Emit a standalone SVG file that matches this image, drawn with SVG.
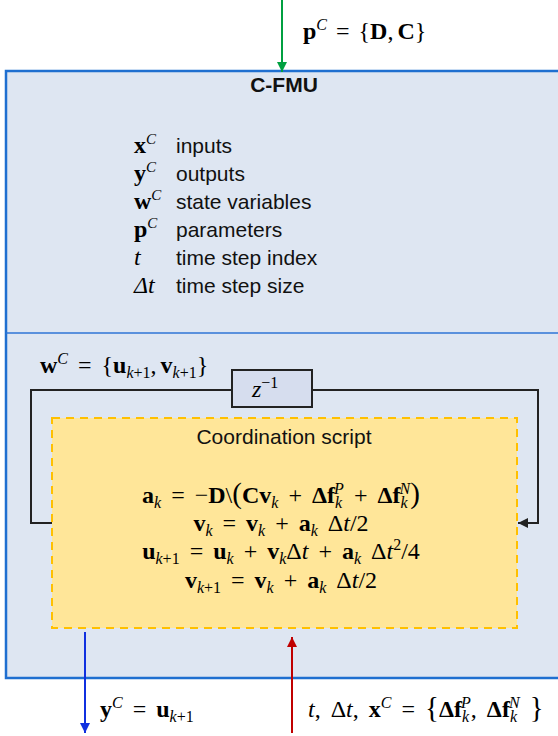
<svg xmlns="http://www.w3.org/2000/svg" width="558" height="736" viewBox="0 0 558 736">
<defs>
<style>
.m{font-family:"Liberation Serif","DejaVu Serif",serif;font-size:24px;fill:#000}
.e{word-spacing:4px}
.b{font-weight:bold}
.i{font-style:italic}
.s{font-size:16px}
.t{font-family:"Liberation Sans",Arial,sans-serif;font-size:21px;fill:#111}
.loop{fill:none;stroke:#222;stroke-width:2}
</style>
<marker id="ag" viewBox="0 0 10 10" refX="10" refY="5" markerWidth="5" markerHeight="5" orient="auto"><path d="M0,0L10,5L0,10z" fill="#00A040"/></marker>
<marker id="ab" viewBox="0 0 10 10" refX="10" refY="5" markerWidth="5" markerHeight="5" orient="auto"><path d="M0,0L10,5L0,10z" fill="#1030E0"/></marker>
<marker id="ar" viewBox="0 0 10 10" refX="10" refY="5" markerWidth="5" markerHeight="5" orient="auto"><path d="M0,0L10,5L0,10z" fill="#C00000"/></marker>
<marker id="ak" viewBox="0 0 10 10" refX="10" refY="5" markerWidth="5" markerHeight="5" orient="auto"><path d="M0,0L10,5L0,10z" fill="#222"/></marker>
</defs>

<g id="cfmu">
<rect x="6" y="71" width="560" height="607" fill="#DEE6F2" stroke="#1F6FD0" stroke-width="2.5"/>
<line x1="6" y1="333" x2="558" y2="333" stroke="#2E75D6" stroke-width="1.5"/>
<text class="t" x="284" y="92" text-anchor="middle" font-weight="bold" font-size="18">C-FMU</text>
<g id="legend">
<text class="m" x="134" y="153" font-size="23"><tspan class="b">x</tspan><tspan class="i" font-size="15" baseline-shift="9">C</tspan></text>
<text class="t" x="176" y="153">inputs</text>
<text class="m" x="134" y="181" font-size="23"><tspan class="b">y</tspan><tspan class="i" font-size="15" baseline-shift="9">C</tspan></text>
<text class="t" x="176" y="181">outputs</text>
<text class="m" x="134" y="209" font-size="23"><tspan class="b">w</tspan><tspan class="i" font-size="15" baseline-shift="9">C</tspan></text>
<text class="t" x="176" y="209">state variables</text>
<text class="m" x="134" y="237" font-size="23"><tspan class="b">p</tspan><tspan class="i" font-size="15" baseline-shift="9">C</tspan></text>
<text class="t" x="176" y="237">parameters</text>
<text class="m i" x="134" y="265" font-size="23">t</text>
<text class="t" x="176" y="265">time step index</text>
<text class="m i" x="134" y="293" font-size="23">Δt</text>
<text class="t" x="176" y="293">time step size</text>
</g>
</g>

<g id="delay">
<rect x="232" y="370" width="80" height="37" fill="#D6DDEE" stroke="#222" stroke-width="2"/>
<text class="m i" x="252" y="397">z<tspan class="s" font-style="normal" baseline-shift="9">−1</tspan></text>
</g>
<text id="wlabel" class="m e" x="40" y="373"><tspan class="b">w</tspan><tspan class="i s" baseline-shift="9">C</tspan> = {<tspan class="b">u</tspan><tspan class="i s" baseline-shift="-5">k</tspan><tspan class="s" baseline-shift="-5">+1</tspan>,<tspan dx="4" class="b">v</tspan><tspan class="i s" baseline-shift="-5">k</tspan><tspan class="s" baseline-shift="-5">+1</tspan>}</text>

<g id="script">
<rect x="52" y="418" width="465" height="210" fill="#FFE699" stroke="#FFC000" stroke-width="2" stroke-dasharray="8,6"/>
<text class="t" x="284" y="444" text-anchor="middle">Coordination script</text>
<text class="m e" x="281" y="503" text-anchor="middle"><tspan class="b">a</tspan><tspan class="i s" baseline-shift="-5">k</tspan> = −<tspan class="b">D</tspan>\<tspan font-size="29">(</tspan><tspan class="b">Cv</tspan><tspan class="i s" baseline-shift="-5">k</tspan> + <tspan class="b">Δf</tspan><tspan class="i s" baseline-shift="-5">k</tspan><tspan class="i s" dx="-8" baseline-shift="9">P</tspan> + <tspan class="b">Δf</tspan><tspan class="i s" baseline-shift="-5">k</tspan><tspan class="i s" dx="-8" baseline-shift="9">N</tspan><tspan font-size="29">)</tspan></text>
<text class="m e" x="281" y="531" text-anchor="middle"><tspan class="b">v</tspan><tspan class="i s" baseline-shift="-5">k</tspan> = <tspan class="b">v</tspan><tspan class="i s" baseline-shift="-5">k</tspan> + <tspan class="b">a</tspan><tspan class="i s" baseline-shift="-5">k</tspan> Δ<tspan class="i">t</tspan>/2</text>
<text class="m e" x="281" y="559" text-anchor="middle"><tspan class="b">u</tspan><tspan class="i s" baseline-shift="-5">k</tspan><tspan class="s" baseline-shift="-5">+1</tspan> = <tspan class="b">u</tspan><tspan class="i s" baseline-shift="-5">k</tspan> + <tspan class="b">v</tspan><tspan class="i s" baseline-shift="-5">k</tspan>Δ<tspan class="i">t</tspan> + <tspan class="b">a</tspan><tspan class="i s" baseline-shift="-5">k</tspan> Δ<tspan class="i">t</tspan><tspan class="s" baseline-shift="9">2</tspan>/4</text>
<text class="m e" x="281" y="588" text-anchor="middle"><tspan class="b">v</tspan><tspan class="i s" baseline-shift="-5">k</tspan><tspan class="s" baseline-shift="-5">+1</tspan> = <tspan class="b">v</tspan><tspan class="i s" baseline-shift="-5">k</tspan> + <tspan class="b">a</tspan><tspan class="i s" baseline-shift="-5">k</tspan> Δ<tspan class="i">t</tspan>/2</text>
</g>

<g id="connectors">
<line x1="282" y1="0" x2="282" y2="72" stroke="#00A040" stroke-width="2" marker-end="url(#ag)"/>
<path class="loop" d="M52,523H31V390H232"/>
<path class="loop" d="M312,390H538V523H518" marker-end="url(#ak)"/>
<line x1="85" y1="632" x2="85" y2="733" stroke="#1030E0" stroke-width="2" marker-end="url(#ab)"/>
<line x1="292" y1="733" x2="292" y2="637" stroke="#C00000" stroke-width="2" marker-end="url(#ar)"/>
</g>

<text id="plabel" class="m" x="303" y="39" word-spacing="3"><tspan class="b">p</tspan><tspan class="i s" baseline-shift="9">C</tspan> = {<tspan class="b">D</tspan>,<tspan dx="4" class="b">C</tspan>}</text>
<text id="ylabel" class="m e" x="100" y="717"><tspan class="b">y</tspan><tspan class="i s" baseline-shift="9">C</tspan> = <tspan class="b">u</tspan><tspan class="i s" baseline-shift="-5">k</tspan><tspan class="s" baseline-shift="-5">+1</tspan></text>
<text id="xlabel" class="m e" x="308" y="717"><tspan class="i">t</tspan>, Δ<tspan class="i">t</tspan>, <tspan class="b">x</tspan><tspan class="i s" baseline-shift="9">C</tspan> = <tspan font-size="29">{</tspan><tspan class="b">Δf</tspan><tspan class="i s" baseline-shift="-5">k</tspan><tspan class="i s" dx="-8" baseline-shift="9">P</tspan>, <tspan class="b">Δf</tspan><tspan class="i s" baseline-shift="-5">k</tspan><tspan class="i s" dx="-8" baseline-shift="9">N</tspan> <tspan font-size="29">}</tspan></text>
</svg>
